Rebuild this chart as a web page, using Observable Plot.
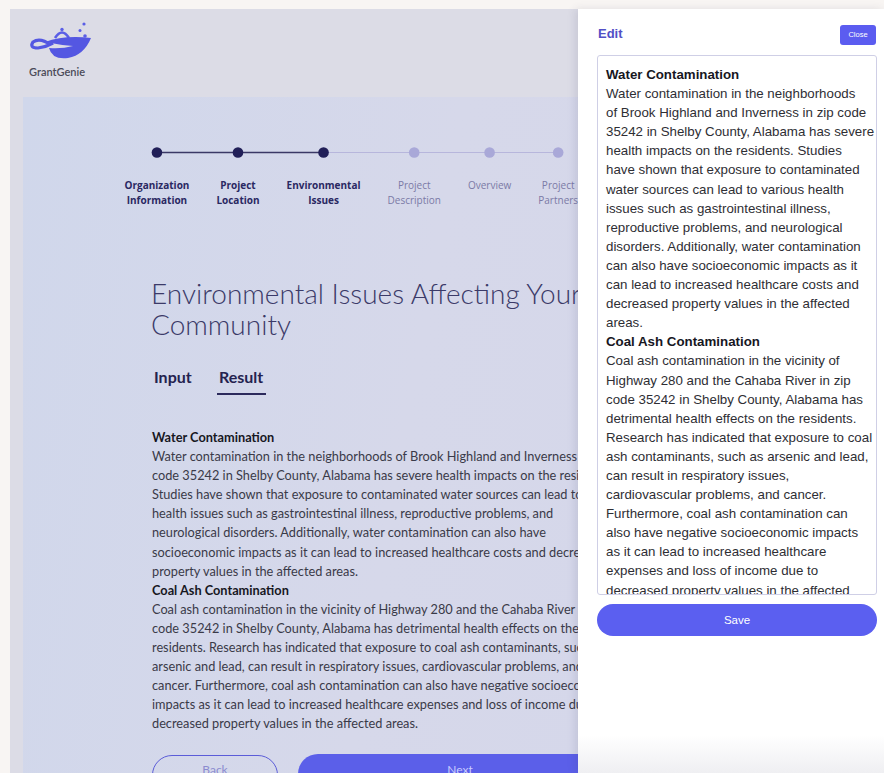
<!DOCTYPE html>
<html>
<head>
<meta charset="utf-8">
<script src="https://cdn.jsdelivr.net/npm/d3@7"></script>
<script src="https://cdn.jsdelivr.net/npm/@observablehq/plot@0.6"></script>
<style>
html,body{margin:0;padding:0;width:884px;height:773px;overflow:hidden;background:#f8f5f3;font-family:Lato,sans-serif;}
.abs{position:absolute;}
#page{left:10px;top:9px;width:874px;height:764px;background:#dcdce6;}
#card{left:23px;top:97px;width:861px;height:676px;background:linear-gradient(100deg,#d0d7eb 0%,#d6d8ea 45%,#d4d6ea 100%);}
#brand{left:29px;top:65px;font-size:11px;font-weight:600;color:#4a4a58;}
#title{left:151px;top:278px;font-size:28px;line-height:31px;font-weight:300;color:#3b3a68;white-space:nowrap;}
.tab{top:368px;font-size:16px;line-height:18px;font-weight:700;color:#24224f;}
#underline{left:217px;top:393px;width:49px;height:2px;background:#2c2a5c;}
#body{left:152px;top:428px;font-size:12.75px;line-height:19.1px;color:#3a3a48;white-space:nowrap;}
#body b, #drawertext b{color:#17171f;font-weight:700;}
#back{left:152px;top:755px;width:126px;height:40px;border:1.5px solid #5b5cd8;border-radius:20px;box-sizing:border-box;}
#backtxt{left:152px;top:762px;width:126px;text-align:center;font-size:12px;color:#8b8bd0;}
#next{left:298px;top:754px;width:324px;height:40px;border-radius:20px;background:#5b5fe9;}
#nexttxt{left:298px;top:762px;width:324px;text-align:center;font-size:12px;color:#c9cbff;}
#drawer{left:578px;top:9px;width:306px;height:764px;background:linear-gradient(180deg,#ffffff 0%,#ffffff 95%,#efeff2 100%);box-shadow:-3px 0 8px rgba(60,60,90,0.12);font-family:"Liberation Sans",Arial,sans-serif;}
#edit{left:20px;top:17px;font-size:13px;font-weight:700;color:#5250c6;}
#close{left:262px;top:16px;width:36px;height:20px;border-radius:3px;background:#5b5cf0;color:#fff;font-size:7.5px;line-height:20px;text-align:center;}
#ta{left:19px;top:46px;width:280px;height:540px;border:1px solid #cfcfe6;border-radius:3px;box-sizing:border-box;overflow:hidden;}
#drawertext{left:8px;top:9px;font-size:13.3px;line-height:19.1px;color:#2e2e34;white-space:nowrap;}
#save{left:19px;top:595px;width:280px;height:32px;border-radius:16px;background:#5b5ff0;color:#fff;font-size:11.5px;line-height:32px;text-align:center;}
</style>
</head>
<body>
<div id="page" class="abs"></div>
<div id="card" class="abs"></div>

<svg class="abs" style="left:28px;top:16px" width="66" height="48" viewBox="28 16 66 48">
  <circle cx="84" cy="24" r="1.6" fill="#5a5ee6"/>
  <circle cx="80" cy="30.5" r="1.5" fill="#5a5ee6"/>
  <circle cx="85" cy="36" r="1.8" fill="#5a5ee6"/>
  <path d="M55 38 Q62 27 69 38" fill="none" stroke="#5a5ee6" stroke-width="2.6"/>
  <circle cx="62" cy="29.5" r="1.7" fill="#5a5ee6"/>
  <path d="M45 42 Q64 35 91 38 Q84 55 68 58 Q52 60 49 48 Q62 49 73 46 Q60 45 45 42 Z" fill="#5457e2"/>
  <path d="M51 45 Q40 37 33 42 Q29 48 38 48 Q46 47 53 43" fill="none" stroke="#5457e2" stroke-width="3.2"/>
</svg>
<div id="brand" class="abs">GrantGenie</div>

<div id="stepper" class="abs" style="left:100px;top:120px"></div>

<div id="title" class="abs"></div>
<div class="abs tab" id="tab0" style="left:154px"></div>
<div class="abs tab" id="tab1" style="left:219px"></div>
<div id="underline" class="abs"></div>
<div id="body" class="abs"></div>

<div id="back" class="abs"></div><div id="backtxt" class="abs"></div>
<div id="next" class="abs"></div><div id="nexttxt" class="abs"></div>

<div id="drawer" class="abs">
  <div id="edit" class="abs"></div>
  <div id="close" class="abs"></div>
  <div id="ta" class="abs"><div id="drawertext" class="abs"></div></div>
  <div id="save" class="abs"></div>
</div>

<script>
// ---------- data ----------
const steps = ["Organization\nInformation", "Project\nLocation", "Environmental\nIssues",
               "Project\nDescription", "Overview", "Project\nPartners"];
const currentStep = 2; // index of "Environmental Issues"
const titleLines = ["Environmental Issues Affecting Your", "Community"];
const tabs = ["Input", "Result"];
const buttons = ["Back", "Next"];
const drawerLabels = ["Edit", "Close", "Save"];

const heading1 = "Water Contamination";
const heading2 = "Coal Ash Contamination";
const bodyLines1 = [
  "Water contamination in the neighborhoods of Brook Highland and Inverness in zip",
  "code 35242 in Shelby County, Alabama has severe health impacts on the residents.",
  "Studies have shown that exposure to contaminated water sources can lead to various",
  "health issues such as gastrointestinal illness, reproductive problems, and",
  "neurological disorders. Additionally, water contamination can also have",
  "socioeconomic impacts as it can lead to increased healthcare costs and decreased",
  "property values in the affected areas."
];
const bodyLines2 = [
  "Coal ash contamination in the vicinity of Highway 280 and the Cahaba River in zip",
  "code 35242 in Shelby County, Alabama has detrimental health effects on the",
  "residents. Research has indicated that exposure to coal ash contaminants, such as",
  "arsenic and lead, can result in respiratory issues, cardiovascular problems, and",
  "cancer. Furthermore, coal ash contamination can also have negative socioeconomic",
  "impacts as it can lead to increased healthcare expenses and loss of income due to",
  "decreased property values in the affected areas."
];
const drawerLines1 = [
  "Water contamination in the neighborhoods",
  "of Brook Highland and Inverness in zip code",
  "35242 in Shelby County, Alabama has severe",
  "health impacts on the residents. Studies",
  "have shown that exposure to contaminated",
  "water sources can lead to various health",
  "issues such as gastrointestinal illness,",
  "reproductive problems, and neurological",
  "disorders. Additionally, water contamination",
  "can also have socioeconomic impacts as it",
  "can lead to increased healthcare costs and",
  "decreased property values in the affected",
  "areas."
];
const drawerLines2 = [
  "Coal ash contamination in the vicinity of",
  "Highway 280 and the Cahaba River in zip",
  "code 35242 in Shelby County, Alabama has",
  "detrimental health effects on the residents.",
  "Research has indicated that exposure to coal",
  "ash contaminants, such as arsenic and lead,",
  "can result in respiratory issues,",
  "cardiovascular problems, and cancer.",
  "Furthermore, coal ash contamination can",
  "also have negative socioeconomic impacts",
  "as it can lead to increased healthcare",
  "expenses and loss of income due to",
  "decreased property values in the affected",
  "areas."
];

// ---------- text ----------
const esc = s => s.replace(/&/g,"&amp;").replace(/</g,"&lt;");
const block = (h, lines) => `<b>${esc(h)}</b><br>` + lines.map(esc).join("<br>");
document.getElementById("title").innerHTML = titleLines.map(esc).join("<br>");
document.getElementById("tab0").textContent = tabs[0];
document.getElementById("tab1").textContent = tabs[1];
document.getElementById("body").innerHTML = block(heading1, bodyLines1) + "<br>" + block(heading2, bodyLines2);
document.getElementById("drawertext").innerHTML = block(heading1, drawerLines1) + "<br>" + block(heading2, drawerLines2);
document.getElementById("backtxt").textContent = buttons[0];
document.getElementById("nexttxt").textContent = buttons[1];
document.getElementById("edit").textContent = drawerLabels[0];
document.getElementById("close").textContent = drawerLabels[1];
document.getElementById("save").textContent = drawerLabels[2];

// ---------- stepper (Observable Plot) ----------
const labelFont = "Open Sans";
const fontSize = 10, gap = 27, startX = 24, dotY = 32, labelY = 58;
const ctx = document.createElement("canvas").getContext("2d");
let cursor = startX;
const stepData = steps.map((label, i) => {
  const done = i <= currentStep;
  ctx.font = `${done ? 700 : 400} ${fontSize}px "${labelFont}"`;
  const w = d3.max(label.split("\n"), s => ctx.measureText(s).width);
  const x = cursor + w / 2;
  cursor += w + gap;
  return {label, x, done, i};
});
const segs = d3.pairs(stepData).map(([a, b]) => ({x1: a.x, x2: b.x, done: b.done}));
const dark = "#211f58", light = "#a9a8d8";

const chart = Plot.plot({
  width: 480, height: 100, margin: 0,
  x: {type: "identity", axis: null}, y: {type: "identity", axis: null},
  style: {background: "transparent", overflow: "visible"},
  marks: [
    Plot.link(segs.filter(d => !d.done), {x1: "x1", x2: "x2", y1: () => dotY, y2: () => dotY, stroke: "#b7b6dc", strokeWidth: 1}),
    Plot.link(segs.filter(d => d.done), {x1: "x1", x2: "x2", y1: () => dotY, y2: () => dotY, stroke: "#3a3866", strokeWidth: 1.5}),
    Plot.dot(stepData.filter(d => d.done), {x: "x", y: () => dotY, r: 5.3, fill: dark}),
    Plot.dot(stepData.filter(d => !d.done), {x: "x", y: () => dotY, r: 5.3, fill: light}),
    Plot.text(stepData.filter(d => d.done), {x: "x", y: () => labelY, text: "label", lineAnchor: "top",
      fontSize, lineHeight: 1.5, fontWeight: 700, fill: "#2a2862", fontFamily: labelFont}),
    Plot.text(stepData.filter(d => !d.done), {x: "x", y: () => labelY, text: "label", lineAnchor: "top",
      fontSize, lineHeight: 1.5, fontWeight: 400, fill: "#7b7aa6", fontFamily: labelFont})
  ]
});
document.getElementById("stepper").appendChild(chart);
</script>
</body>
</html>
